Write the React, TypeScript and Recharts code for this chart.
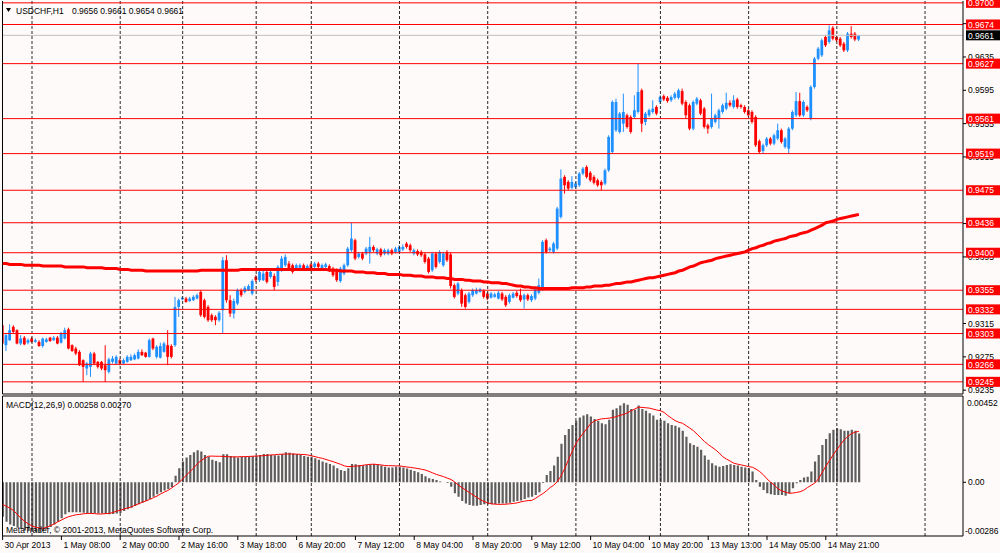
import React from 'react';
import { ComposedChart, Bar, Line, XAxis, YAxis, ReferenceLine } from 'recharts';

const FONT = '"Liberation Sans", Arial, sans-serif';
const FS = 8.5;

// ---- axis / label data ----
const timeLabels = ['30 Apr 2013', '1 May 08:00', '2 May 00:00', '2 May 16:00', '3 May 18:00', '6 May 20:00', '7 May 12:00', '8 May 04:00', '8 May 20:00', '9 May 12:00', '10 May 04:00', '10 May 20:00', '13 May 13:00', '14 May 05:00', '14 May 21:00'];
const timeTickIdx = [0, 16, 32, 48, 64, 80, 96, 112, 128, 144, 160, 176, 192, 208, 224];
const gridIdx = [8, 32, 49, 69, 84, 108, 132, 156, 179, 203, 227, 251];
const priceTicks = [0.9235, 0.9275, 0.9315, 0.9355, 0.9395, 0.9435, 0.9475, 0.9515, 0.9555, 0.9595, 0.9635, 0.9675];
const levels = [0.97, 0.9674, 0.9627, 0.9561, 0.9519, 0.9475, 0.9436, 0.94, 0.9355, 0.9332, 0.9303, 0.9266, 0.9245];
const currentPrice = 0.9661;
const macdTicks = [0.00452, 0, -0.00286];
const titleSymbol = 'USDCHF,H1';
const titleOHLC = '0.9656 0.9661 0.9654 0.9661';
const macdTitle = 'MACD(12,26,9) 0.00258 0.00270';
const copyright = 'MetaTrader, \u00A9 2001-2013, MetaQuotes Software Corp.';

const X_DOMAIN: [number, number] = [-0.03, 261.33];
const PRICE_DOMAIN: [number, number] = [0.92304, 0.97022];
const MACD_DOMAIN: [number, number] = [-0.002846, 0.004573];

// ---- series (prices x1e-4, macd x1e-5) ----
const OPEN = [
9313,9289,9295,9311,9307,9291,9298,9292,9297,9293,
9293,9288,9293,9298,9295,9298,9292,9297,9308,9289,
9285,9281,9271,9261,9263,9279,9269,9269,9265,9257,
9269,9267,9271,9267,9269,9271,9272,9273,9281,9280,
9275,9297,9275,9274,9281,9289,9288,9289,9335,9344,
9345,9342,9343,9345,9353,9343,9335,9325,9323,9319,
9331,9391,9343,9327,9339,9355,9353,9355,9351,9371,
9367,9367,9377,9371,9372,9365,9379,9385,9387,9385,
9381,9382,9385,9381,9386,9383,9387,9379,9383,9384,
9381,9379,9366,9375,9385,9403,9415,9395,9399,9399,
9401,9407,9399,9404,9399,9399,9403,9401,9401,9404,
9411,9409,9399,9402,9401,9398,9393,9379,9399,9389,
9385,9401,9398,9361,9351,9355,9349,9341,9349,9351,
9353,9354,9351,9346,9347,9345,9351,9347,9341,9346,
9352,9349,9344,9349,9343,9345,9352,9356,9415,9403,
9401,9405,9443,9491,9485,9478,9479,9481,9495,9503,
9496,9491,9487,9485,9483,9499,9521,9547,9545,9555,
9565,9563,9563,9569,9595,9557,9565,9569,9575,9581,
9588,9586,9583,9586,9586,9594,9581,9577,9549,9579,
9583,9573,9553,9551,9557,9561,9569,9573,9580,9575,
9584,9577,9575,9571,9569,9563,9534,9522,9529,9537,
9531,9537,9547,9527,9525,9549,9565,9582,9565,9575,
9561,9599,9633,9637,9659,9653,9670,9659,9657,9651,
9643,9663,9663,9656];
const HIGH = [
9319,9303,9314,9313,9308,9301,9300,9297,9299,9297,
9295,9298,9298,9299,9300,9300,9305,9310,9310,9290,
9287,9283,9272,9269,9281,9281,9270,9270,9289,9274,
9276,9277,9273,9273,9277,9278,9279,9284,9284,9281,
9297,9298,9289,9292,9293,9307,9290,9347,9345,9348,
9347,9347,9349,9351,9355,9345,9337,9327,9325,9330,
9395,9397,9349,9345,9357,9357,9360,9362,9368,9373,
9379,9378,9379,9379,9375,9385,9396,9398,9390,9387,
9387,9387,9387,9386,9388,9389,9389,9387,9388,9386,
9383,9381,9383,9387,9407,9436,9417,9401,9401,9407,
9419,9409,9406,9406,9405,9405,9405,9407,9409,9410,
9413,9411,9405,9404,9403,9400,9395,9401,9401,9403,
9401,9403,9400,9363,9365,9357,9351,9353,9357,9358,
9358,9356,9353,9353,9352,9354,9353,9349,9351,9353,
9354,9357,9351,9351,9350,9358,9369,9415,9417,9407,
9413,9455,9500,9493,9487,9492,9485,9497,9503,9505,
9498,9493,9489,9487,9501,9541,9583,9585,9569,9591,
9567,9565,9589,9627,9597,9569,9573,9583,9577,9589,
9590,9588,9589,9593,9597,9597,9583,9579,9583,9587,
9585,9575,9555,9591,9567,9573,9579,9592,9583,9589,
9586,9579,9577,9573,9571,9565,9536,9531,9539,9539,
9543,9555,9549,9539,9551,9571,9593,9592,9583,9577,
9601,9635,9647,9657,9661,9673,9672,9661,9659,9653,
9665,9672,9665,9661];
const LOW = [
9277,9282,9294,9303,9290,9289,9289,9290,9292,9292,
9287,9286,9292,9293,9294,9290,9291,9296,9284,9281,
9277,9264,9245,9253,9251,9265,9261,9259,9245,9255,
9267,9266,9265,9266,9268,9270,9271,9272,9276,9274,
9274,9283,9273,9273,9280,9265,9273,9287,9323,9343,
9340,9341,9342,9344,9323,9321,9317,9317,9313,9317,
9303,9340,9323,9321,9337,9347,9351,9354,9349,9365,
9365,9366,9363,9369,9355,9360,9377,9383,9379,9375,
9379,9380,9378,9380,9378,9381,9381,9378,9381,9377,
9371,9365,9364,9373,9383,9401,9391,9393,9391,9397,
9387,9401,9397,9395,9397,9397,9397,9399,9399,9402,
9405,9401,9397,9396,9395,9387,9375,9377,9381,9387,
9383,9389,9357,9345,9349,9335,9333,9339,9347,9350,
9352,9345,9343,9345,9346,9344,9342,9335,9339,9345,
9346,9341,9333,9342,9341,9343,9350,9354,9399,9401,
9399,9403,9441,9471,9475,9476,9477,9479,9493,9489,
9485,9482,9479,9475,9481,9497,9519,9545,9543,9545,
9549,9543,9561,9567,9545,9553,9563,9567,9565,9579,
9582,9580,9581,9584,9584,9577,9561,9547,9547,9577,
9565,9549,9543,9549,9555,9549,9567,9571,9575,9573,
9573,9573,9567,9563,9555,9527,9519,9519,9527,9529,
9529,9535,9531,9525,9519,9547,9563,9563,9563,9569,
9559,9597,9631,9635,9647,9651,9655,9653,9647,9641,
9641,9657,9654,9654];
const CLOSE = [
9291,9301,9307,9305,9291,9297,9290,9295,9293,9295,
9288,9297,9296,9294,9298,9291,9303,9307,9285,9282,
9279,9265,9263,9267,9279,9267,9263,9261,9259,9272,
9273,9275,9267,9271,9275,9275,9277,9281,9277,9275,
9295,9285,9287,9288,9291,9275,9275,9335,9343,9346,
9341,9345,9347,9349,9325,9323,9319,9319,9319,9328,
9391,9343,9327,9342,9355,9349,9358,9360,9366,9367,
9377,9375,9365,9377,9359,9383,9393,9395,9381,9377,
9385,9385,9380,9384,9380,9387,9383,9385,9386,9379,
9373,9367,9381,9385,9405,9417,9393,9399,9393,9405,
9407,9403,9404,9397,9403,9403,9399,9405,9407,9407,
9407,9403,9403,9398,9397,9389,9377,9399,9383,9401,
9399,9391,9360,9347,9363,9339,9335,9351,9355,9355,
9356,9347,9345,9351,9350,9352,9344,9337,9349,9351,
9348,9343,9349,9344,9348,9356,9361,9413,9401,9405,
9411,9453,9489,9481,9477,9485,9483,9495,9501,9491,
9487,9484,9481,9481,9499,9539,9581,9581,9567,9569,
9551,9545,9571,9593,9555,9567,9571,9573,9567,9587,
9584,9582,9587,9591,9595,9579,9565,9549,9581,9585,
9567,9551,9549,9561,9565,9571,9577,9580,9577,9583,
9575,9575,9569,9565,9557,9529,9521,9529,9537,9531,
9541,9547,9533,9537,9549,9569,9582,9565,9581,9571,
9599,9633,9645,9655,9649,9667,9657,9655,9649,9643,
9663,9659,9656,9661];
const MA = [
9387,9387,9386,9386,9386,9386,9385,9385,9385,9385,
9385,9384,9384,9384,9384,9384,9384,9383,9383,9383,
9383,9383,9383,9382,9382,9382,9382,9382,9381,9381,
9381,9381,9380,9380,9380,9379,9379,9379,9379,9378,
9378,9378,9378,9378,9378,9378,9378,9378,9378,9378,
9378,9378,9378,9378,9379,9379,9379,9379,9379,9379,
9379,9379,9379,9379,9379,9380,9380,9380,9380,9380,
9380,9380,9380,9380,9380,9380,9380,9380,9380,9380,
9380,9380,9380,9380,9380,9380,9380,9380,9380,9379,
9379,9379,9378,9378,9378,9378,9377,9377,9377,9376,
9376,9376,9375,9375,9375,9374,9374,9374,9374,9373,
9373,9373,9372,9372,9372,9371,9371,9371,9370,9370,
9370,9369,9369,9368,9368,9368,9367,9367,9366,9366,
9366,9365,9365,9364,9364,9364,9363,9363,9362,9361,
9360,9360,9359,9359,9358,9358,9357,9357,9357,9357,
9357,9357,9357,9357,9357,9358,9358,9358,9358,9359,
9359,9360,9360,9360,9361,9361,9362,9363,9363,9364,
9365,9365,9366,9367,9368,9369,9370,9370,9371,9372,
9373,9374,9375,9376,9378,9379,9381,9383,9384,9386,
9388,9389,9390,9391,9393,9394,9395,9396,9397,9398,
9399,9400,9401,9403,9405,9406,9408,9409,9411,9412,
9414,9415,9416,9417,9419,9420,9421,9423,9424,9425,
9427,9429,9431,9433,9436,9437,9438,9440,9441,9442,
9443,9444,9445,9446];
const MACD = [
-182,-209,-223,-232,-241,-248,-255,-258,-262,-262,
-262,-258,-248,-237,-223,-209,-191,-170,-159,-159,
-159,-159,-161,-163,-163,-163,-165,-166,-168,-170,
-168,-166,-163,-152,-143,-135,-126,-117,-108,-99,
-88,-76,-64,-53,-44,-35,-25,35,74,110,
131,145,159,170,163,145,135,120,113,106,
149,149,140,135,131,135,136,136,138,140,
145,150,150,145,143,142,150,159,156,152,
150,147,140,136,135,127,119,110,104,97,
89,74,65,60,74,97,96,92,89,92,
94,97,96,89,83,78,78,83,83,78,
73,67,60,53,44,32,21,18,12,4,
0,-4,-23,-58,-76,-99,-113,-120,-124,-124,
-120,-117,-117,-117,-115,-113,-112,-112,-108,-103,
-99,-96,-88,-81,-76,-67,-53,-4,39,60,
89,136,204,251,283,304,326,343,354,361,
349,336,326,313,308,331,384,393,407,419,
411,389,384,407,389,379,366,354,331,331,
326,313,304,299,290,273,242,207,198,189,
172,142,119,101,89,83,87,92,96,92,
89,83,78,74,57,12,-23,-41,-58,-64,
-67,-67,-67,-71,-58,-32,-5,12,25,30,
57,110,145,198,230,260,278,287,281,273,
273,278,273,258];
const SIGNAL = [
-117,-127,-137,-150,-170,-190,-207,-220,-232,-238,
-242,-244,-238,-230,-221,-210,-200,-190,-182,-177,
-172,-170,-167,-165,-165,-166,-168,-168,-166,-165,
-160,-153,-148,-142,-136,-131,-122,-114,-106,-99,
-91,-82,-73,-62,-52,-43,-30,-16,-2,18,
38,57,76,98,115,128,138,139,138,138,
137,136,135,135,135,136,136,137,138,139,
140,141,143,145,146,148,149,150,150,150,
149,148,147,145,141,136,131,127,121,115,
109,102,95,87,83,84,86,87,90,93,
95,96,94,92,89,88,88,87,87,84,
81,79,76,73,69,65,58,50,42,36,
30,22,15,2,-15,-28,-41,-54,-67,-79,
-92,-102,-109,-114,-116,-117,-117,-116,-114,-112,
-109,-104,-100,-97,-96,-85,-72,-60,-45,-28,
-15,5,35,75,120,165,205,235,260,285,
310,325,332,336,338,340,343,348,355,360,
368,379,388,398,397,395,393,388,383,379,
370,354,340,327,318,313,300,287,273,255,
235,216,200,186,172,155,135,123,112,101,
96,92,88,83,80,70,57,40,18,0,
-15,-35,-45,-52,-58,-57,-54,-50,-42,-28,
-16,-4,18,52,85,115,145,173,200,225,
243,258,266,270];

const rows = OPEN.map((o, i) => ({
  i,
  o: o / 10000,
  h: HIGH[i] / 10000,
  l: LOW[i] / 10000,
  c: CLOSE[i] / 10000,
  ma: MA[i] / 10000,
  macd: MACD[i] / 100000,
  sig: SIGNAL[i] / 100000,
}));

const sameVal = (a: number, b: number) => Math.abs(a - b) < 1e-7;
const regularTicks = priceTicks.filter((t) => !levels.some((l) => sameVal(l, t)));
const axisTicks = [...regularTicks, ...levels, currentPrice];

const BG = '#fffafa';
const BULL = '#1e90ff';
const BEAR = '#ff0000';

const Candle = (props: any) => {
  const { x, y, width, height, payload } = props;
  if (!payload || x == null || y == null) return null;
  const top = Math.min(y, y + height);
  const bot = Math.max(y, y + height);
  const span = payload.h - payload.l;
  const k = span > 0 ? (bot - top) / span : 0;
  const yv = (v: number) => top + (payload.h - v) * k;
  const cx = x + width / 2;
  const up = payload.c >= payload.o;
  const col = up ? BULL : BEAR;
  const bt = yv(Math.max(payload.o, payload.c));
  const bb = yv(Math.min(payload.o, payload.c));
  return (
    <g>
      <line x1={cx} x2={cx} y1={top} y2={bot} stroke={col} strokeWidth={1} />
      <rect x={cx - 1.4} y={bt} width={2.8} height={Math.max(1, bb - bt)} fill={col} />
    </g>
  );
};

const PriceTick = (props: any) => {
  const { x, y, payload, index } = props;
  const v = payload.value as number;
  const label = v.toFixed(4);
  const nReg = regularTicks.length;
  const nLev = levels.length;
  if (index < nReg) {
    return (
      <g>
        <line x1={x} x2={x + 3} y1={y} y2={y} stroke="#000" />
        <text x={x + 5} y={y + 3.2} fontSize={FS} fontFamily={FONT} fill="#000">{label}</text>
      </g>
    );
  }
  const fill = index < nReg + nLev ? '#ff0000' : '#000000';
  return (
    <g>
      <rect x={x + 3} y={y - 5} width={34} height={10} fill={fill} />
      <text x={x + 5} y={y + 3.2} fontSize={FS} fontFamily={FONT} fill="#fff">{label}</text>
    </g>
  );
};

const MacdTick = (props: any) => {
  const { x, y, payload, index } = props;
  const v = payload.value as number;
  if (index === 0) {
    return <text x={x + 4} y={y + 9} fontSize={FS} fontFamily={FONT} fill="#000">{v.toFixed(5)}</text>;
  }
  if (index === 1) {
    return (
      <g>
        <line x1={x} x2={x + 3} y1={y} y2={y} stroke="#000" />
        <text x={x + 5} y={y + 3.2} fontSize={FS} fontFamily={FONT} fill="#000">0.00</text>
      </g>
    );
  }
  return <text x={x + 2} y={y - 2} fontSize={FS} fontFamily={FONT} fill="#000">{v.toFixed(5)}</text>;
};

const TimeTick = (props: any) => {
  const { x, y, payload } = props;
  const k = timeTickIdx.indexOf(payload.value);
  return (
    <g>
      <line x1={x} x2={x} y1={y} y2={y + 4} stroke="#000" />
      <text x={x + 2} y={y + 12} fontSize={FS} fontFamily={FONT} fill="#000">{timeLabels[k]}</text>
    </g>
  );
};

const gridLines = () =>
  gridIdx.map((g) => (
    <ReferenceLine key={'g' + g} x={g} stroke="#2a2a2a" strokeDasharray="3 2" strokeWidth={1} ifOverflow="visible" />
  ));

export default function App() {
  return (
    <div style={{ position: 'absolute', left: 0, top: 0, width: 1000, height: 553, background: BG, overflow: 'hidden' }}>
      <div style={{ position: 'absolute', left: 0, top: 0 }}>
        <ComposedChart width={1000} height={395} data={rows} margin={{ top: 1, right: 0, left: 2.5, bottom: 1 }}>
          <XAxis type="number" dataKey="i" domain={X_DOMAIN} allowDataOverflow hide />
          <YAxis
            orientation="right"
            type="number"
            width={37}
            domain={PRICE_DOMAIN}
            allowDataOverflow
            ticks={axisTicks}
            interval={0}
            tick={(p: any) => <PriceTick {...p} />}
            tickLine={false}
            axisLine={false}
            tickSize={0}
            tickMargin={0}
          />
          {gridLines()}
          {levels.map((lv) => (
            <ReferenceLine key={'lv' + lv} y={lv} stroke="#ff0000" strokeWidth={1} />
          ))}
          <ReferenceLine y={currentPrice} stroke="#c0c0c0" strokeWidth={1} />
          <ReferenceLine x={X_DOMAIN[0]} stroke="#000" strokeWidth={1} />
          <ReferenceLine x={X_DOMAIN[1]} stroke="#000" strokeWidth={1} />
          <ReferenceLine y={PRICE_DOMAIN[0]} stroke="#000" strokeWidth={1} />
          <Bar dataKey={(d: any) => [d.l, d.h]} shape={(p: any) => <Candle {...p} />} barSize={3} isAnimationActive={false} />
          <Line dataKey="ma" stroke="#ff0000" strokeWidth={3} dot={false} activeDot={false} isAnimationActive={false} type="linear" />
        </ComposedChart>
      </div>
      <div style={{ position: 'absolute', left: 0, top: 395 }}>
        <ComposedChart width={1000} height={158} data={rows} margin={{ top: 1, right: 0, left: 2.5, bottom: 0 }}>
          <XAxis
            type="number"
            dataKey="i"
            domain={X_DOMAIN}
            allowDataOverflow
            ticks={timeTickIdx}
            interval={0}
            tick={(p: any) => <TimeTick {...p} />}
            tickLine={false}
            axisLine={false}
            tickSize={0}
            tickMargin={0}
            height={17}
          />
          <YAxis
            orientation="right"
            type="number"
            width={37}
            domain={MACD_DOMAIN}
            allowDataOverflow
            ticks={macdTicks}
            interval={0}
            tick={(p: any) => <MacdTick {...p} />}
            tickLine={false}
            axisLine={false}
            tickSize={0}
            tickMargin={0}
          />
          {gridLines()}
          <ReferenceLine x={X_DOMAIN[0]} stroke="#000" strokeWidth={1} />
          <ReferenceLine x={X_DOMAIN[1]} stroke="#000" strokeWidth={1} />
          <ReferenceLine y={MACD_DOMAIN[0]} stroke="#000" strokeWidth={1} />
          <ReferenceLine y={MACD_DOMAIN[1]} stroke="#000" strokeWidth={1} />
          <Bar dataKey="macd" fill="#5e5e5e" barSize={2.2} isAnimationActive={false} />
          <Line dataKey="sig" stroke="#ff0000" strokeWidth={1} dot={false} activeDot={false} isAnimationActive={false} type="linear" />
        </ComposedChart>
      </div>
      <svg width={1000} height={553} style={{ position: 'absolute', left: 0, top: 0, pointerEvents: 'none' }}>
        <polygon points="6,8 11,8 8.5,12" fill="#000" />
        <text x={16} y={13.5} fontSize={FS} fontFamily={FONT} fill="#000">{titleSymbol}</text>
        <text x={72} y={13.5} fontSize={FS} fontFamily={FONT} fill="#000">{titleOHLC}</text>
        <text x={6} y={408} fontSize={FS} fontFamily={FONT} fill="#000">{macdTitle}</text>
        <text x={6} y={533} fontSize={FS} fontFamily={FONT} fill="#000">{copyright}</text>
      </svg>
    </div>
  );
}
